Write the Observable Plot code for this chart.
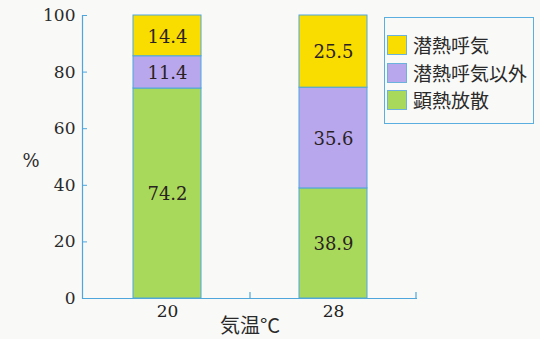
<!DOCTYPE html>
<html>
<head>
<meta charset="utf-8">
<script src="https://cdn.jsdelivr.net/npm/d3@7"></script>
<script src="https://cdn.jsdelivr.net/npm/@observablehq/plot@0.6"></script>
<style>
  html, body { margin: 0; padding: 0; background: #f9f9f7; }
  #wrap { position: relative; width: 540px; height: 339px; overflow: hidden; }
  #legend { position: absolute; left: 384px; top: 17px; width: 150px; height: 107px;
    border: 1px solid #5aaee0; box-sizing: border-box; font-family: "Noto Sans CJK JP", sans-serif;
    font-size: 19px; color: #2a2a2a; }
  .item { position: absolute; left: 2px; display: flex; align-items: center; }
  .sw { width: 20px; height: 20px; box-sizing: border-box; border: 1px solid #6bb2dd; margin-right: 6px; }
</style>
</head>
<body>
<div id="wrap"></div>
<script>
// ---- data ----
const categories = ["20", "28"];                       // 気温 °C
const seriesNames = ["潜熱呼気", "潜熱呼気以外", "顕熱放散"];
const latentRespiration = [14.4, 25.5];               // 潜熱呼気
const latentOther = [11.4, 35.6];                     // 潜熱呼気以外
const sensibleHeat = [74.2, 38.9];                    // 顕熱放散
const seriesColors = ["#f9dc00", "#b9a7ee", "#a9d95b"];
const yTicks = [0, 20, 40, 60, 80, 100];

// stacking order bottom -> top
const stackOrder = [
  {name: seriesNames[2], values: sensibleHeat},
  {name: seriesNames[1], values: latentOther},
  {name: seriesNames[0], values: latentRespiration}
];
const rows = [];
for (const s of stackOrder) categories.forEach((c, i) => rows.push({temp: c, series: s.name, value: s.values[i]}));

const blue = "#4ea6dd";
const serif = "DejaVu Serif";

const plot = Plot.plot({
  width: 540,
  height: 339,
  marginLeft: 82,
  marginRight: 123,
  marginTop: 15,
  marginBottom: 41,
  style: {background: "transparent", fontFamily: serif, color: "#222"},
  x: {domain: categories, paddingInner: 0.593, paddingOuter: 0.3, label: null},
  y: {domain: [0, 100], label: null},
  color: {domain: seriesNames, range: seriesColors},
  marks: [
    Plot.barY(rows, Plot.stackY({x: "temp", y: "value", fill: "series", stroke: blue, strokeWidth: 1, order: null})),
    Plot.text(rows, Plot.stackY({x: "temp", y: "value", text: d => d.value.toFixed(1), order: null,
      fontSize: 18, fontFamily: serif, fill: "#2a2222", dy: 1})),
    Plot.ruleY([0], {stroke: blue, strokeWidth: 1.2}),
    Plot.frame({anchor: "left", stroke: blue, strokeWidth: 1.2}),
    Plot.axisY({ticks: yTicks, tickSize: -5, tickPadding: 12, stroke: blue, fontSize: 17, fontFamily: serif, color: "#2a2a2a", label: null}),
    Plot.axisX({tickSize: 0, tickPadding: 6, fontSize: 17, fontFamily: serif, label: null}),
    Plot.text(["%"], {frameAnchor: "left", dx: -60, dy: 4, fontSize: 18, fontFamily: serif, fill: "#2a2a2a"}),
    Plot.text(["気温°C"], {frameAnchor: "bottom", dy: 34, fontSize: 20, fontFamily: "Noto Sans CJK JP", fill: "#2a2a2a"})
  ]
});

// band-boundary ticks on x axis (pointing up), computed from the x scale
const xs = plot.scale("x");
const ys = plot.scale("y");
const y0 = ys.apply(0);
const svg = d3.select(plot);
categories.forEach(c => {
  const boundary = xs.apply(c) + xs.bandwidth / 2 + xs.step / 2;
  svg.append("line").attr("x1", boundary).attr("x2", boundary).attr("y1", y0).attr("y2", y0 - 6)
    .attr("stroke", blue).attr("stroke-width", 1.2);
});

const wrap = document.getElementById("wrap");
wrap.appendChild(plot);

// legend
const legend = document.createElement("div");
legend.id = "legend";
const rowTops = [13, 41, 68];
seriesNames.forEach((name, i) => {
  const item = document.createElement("div");
  item.className = "item";
  item.style.top = rowTops[i] + "px";
  const sw = document.createElement("div");
  sw.className = "sw";
  sw.style.background = seriesColors[i];
  const label = document.createElement("span");
  label.textContent = name;
  item.appendChild(sw);
  item.appendChild(label);
  legend.appendChild(item);
});
wrap.appendChild(legend);
</script>
</body>
</html>
